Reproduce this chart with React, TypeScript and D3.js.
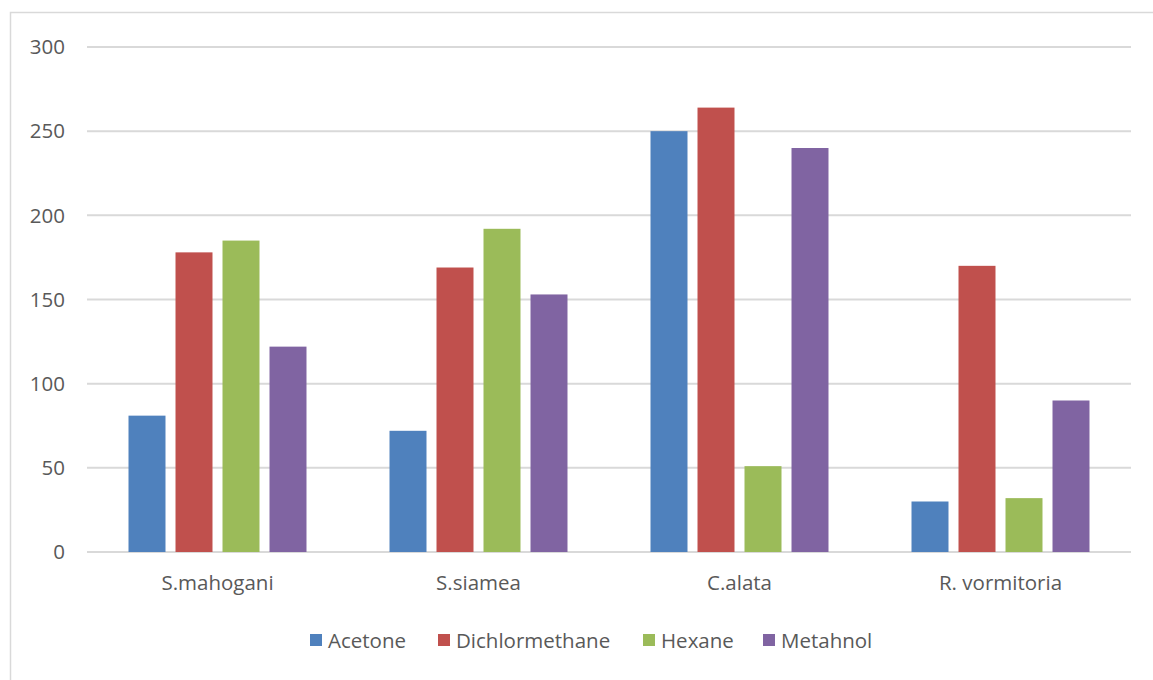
import React from "react";
import * as d3 from "d3";

const categories = ["S.mahogani", "S.siamea", "C.alata", "R. vormitoria"];
const seriesNames = ["Acetone", "Dichlormethane", "Hexane", "Metahnol"];
const acetone = [81, 72, 250, 30];
const dichlormethane = [178, 169, 264, 170];
const hexane = [185, 192, 51, 32];
const metahnol = [122, 153, 240, 90];
const yTicks = [0, 50, 100, 150, 200, 250, 300];
const colors = ["#4F81BD", "#C0504D", "#9BBB59", "#8064A2"];

const W = 1153;
const H = 680;
const FONT = "'Open Sans', sans-serif";
const FS = 20.5;

export default function App() {
  const seriesValues = [acetone, dichlormethane, hexane, metahnol];
  const left = 87, right = 1131, top = 47, bottom = 552;
  const x0 = d3.scaleBand<string>().domain(categories).range([left, right]).paddingInner(0).paddingOuter(0);
  const x1 = d3.scaleBand<string>().domain(seriesNames).range([0, x0.bandwidth()]).paddingInner(0.213).paddingOuter(0.883);
  const y = d3.scaleLinear().domain([0, 300]).range([bottom, top]);

  const legendX = [310, 438, 643, 763];

  return (
    <svg width={W} height={H} style={{ position: "absolute", left: 0, top: 0, background: "#fff" }}>
      <rect x={10.5} y={12.5} width={1160} height={680} fill="#fff" stroke="#d9d9d9" strokeWidth={1.5} />
      {yTicks.map((t) => (
        <g key={t}>
          <line x1={left} x2={right} y1={y(t)} y2={y(t)} stroke="#d9d9d9" strokeWidth={2} />
          <text x={65} y={y(t)} dy="0.35em" textAnchor="end" fontFamily={FONT} fontSize={FS} fill="#595959">{t}</text>
        </g>
      ))}
      {categories.map((c, ci) => (
        <g key={c}>
          {seriesNames.map((s, si) => {
            const v = seriesValues[si][ci];
            return (
              <rect key={s} x={(x0(c) as number) + (x1(s) as number)} y={y(v)} width={x1.bandwidth()} height={y(0) - y(v)} fill={colors[si]} />
            );
          })}
          <text x={(x0(c) as number) + x0.bandwidth() / 2} y={583} dy="0.35em" textAnchor="middle" fontFamily={FONT} fontSize={FS} fill="#595959">{c}</text>
        </g>
      ))}
      {seriesNames.map((s, si) => (
        <g key={s}>
          <rect x={legendX[si]} y={634} width={12} height={12} fill={colors[si]} />
          <text x={legendX[si] + 18} y={641} dy="0.35em" fontFamily={FONT} fontSize={FS} fill="#595959">{s}</text>
        </g>
      ))}
    </svg>
  );
}
